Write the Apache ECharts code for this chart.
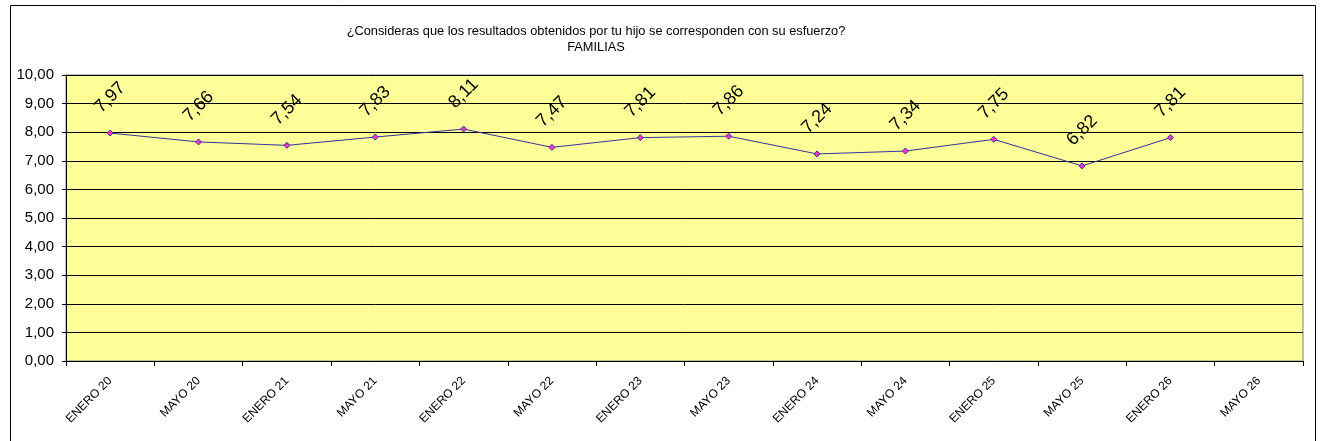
<!DOCTYPE html>
<html>
<head>
<meta charset="utf-8">
<script src="https://cdn.jsdelivr.net/npm/echarts@6/dist/echarts.min.js"></script>
<style>
  html, body { margin: 0; padding: 0; background: #fff; }
  #chart { width: 1323px; height: 441px; }
</style>
</head>
<body>
<div id="chart"></div>
<script>
const categories = ['ENERO 20','MAYO 20','ENERO 21','MAYO 21','ENERO 22','MAYO 22','ENERO 23','MAYO 23','ENERO 24','MAYO 24','ENERO 25','MAYO 25','ENERO 26','MAYO 26']
const scores = [7.97, 7.66, 7.54, 7.83, 8.11, 7.47, 7.81, 7.86, 7.24, 7.34, 7.75, 6.82, 7.81, null]
const titleLines = ['¿Consideras que los resultados obtenidos por tu hijo se corresponden con su esfuerzo?', 'FAMILIAS']

const fmt = v => v.toFixed(2).replace('.', ',')

const chart = echarts.init(document.getElementById('chart'))
chart.setOption({
  animation: false,
  textStyle: { fontFamily: 'Liberation Sans, Arial, sans-serif' },
  title: {
    text: titleLines.join('\n'),
    left: 591, top: 18, textAlign: 'center',
    textStyle: { fontSize: 12.8, fontWeight: 'normal', color: '#000', lineHeight: 16 }
  },
  graphic: [
    { type: 'rect', shape: { x: 10.5, y: 5.5, width: 1305, height: 450 }, style: { fill: 'none', stroke: '#000', lineWidth: 1 }, silent: true }
  ],
  grid: { left: 66, right: 20, top: 75, bottom: 80, show: true, backgroundColor: '#ffff99', borderColor: '#808080', borderWidth: 1 },
  xAxis: {
    type: 'category', data: categories, boundaryGap: true,
    axisLine: { lineStyle: { color: '#000' } },
    axisTick: { show: true, length: 5, lineStyle: { color: '#000' } },
    axisLabel: { rotate: 45, fontSize: 12, color: '#000', margin: 18, interval: 0 }
  },
  yAxis: {
    type: 'value', min: 0, max: 10, interval: 1,
    axisLine: { show: true, lineStyle: { color: '#000' } },
    axisTick: { show: true, length: 4, lineStyle: { color: '#000' } },
    axisLabel: { fontSize: 15, color: '#000', margin: 12, formatter: v => fmt(v) },
    splitLine: { lineStyle: { color: '#000', width: 1 } }
  },
  series: [{
    type: 'line', data: scores, connectNulls: false,
    symbol: 'diamond', symbolSize: 6,
    lineStyle: { color: '#333399', width: 1 },
    itemStyle: { color: '#ff33cc', borderColor: '#333399', borderWidth: 1 },
    label: {
      show: true, position: 'top', distance: 32, rotate: 45,
      align: 'center', verticalAlign: 'middle',
      fontSize: 18, color: '#000', formatter: p => fmt(p.value)
    }
  }]
})
</script>
</body>
</html>
